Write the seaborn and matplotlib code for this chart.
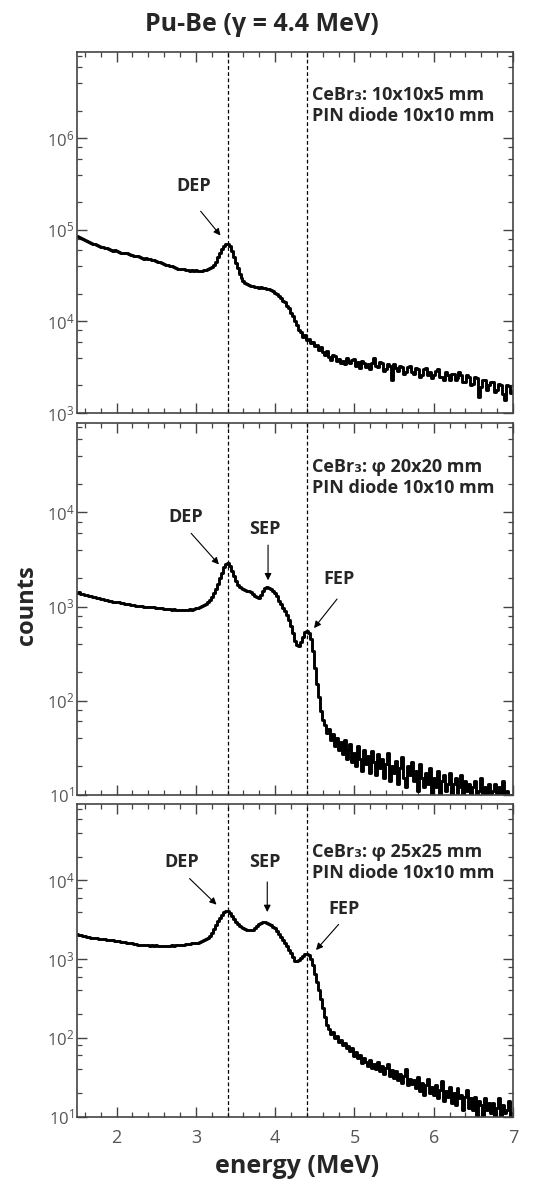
import numpy as np
import pandas as pd
import matplotlib
matplotlib.use("Agg")
import matplotlib.pyplot as plt
from matplotlib.ticker import MultipleLocator, LogLocator, NullFormatter
import seaborn as sns

# bin centres of the spectra (MeV), 25 keV bins
energy = np.round(np.arange(1.5, 7.0 + 1e-9, 0.025), 3)

# CeBr3 10x10x5 mm  (rows of 0.25 MeV)
counts_small = [
    86000, 83500, 82500, 79500, 78500, 76500, 73000, 72500, 70000, 69800,
    68000, 66900, 65200, 64600, 62800, 62900, 61200, 60700, 59600, 59900,
    58300, 58100, 56600, 56400, 55300, 55600, 54100, 53900, 52700, 52400,
    51300, 51400, 50200, 49800, 48700, 49200, 47800, 47600, 47200, 47000,
    46100, 45200, 44700, 43000, 42700, 41500, 41200, 40200, 40100, 38900,
    38600, 37800, 37700, 37300, 37100, 36400, 36700, 36000, 36200, 35400,
    36100, 36000, 35600, 35500, 36200, 36600, 37700, 38300, 39700, 41500,
    45000, 50000, 56000, 62000, 67000, 70000, 71000, 66000, 59000, 51000,
    44000, 38000, 33000, 29500, 27500, 26500, 25500, 25200, 24400, 24500,
    23900, 23800, 23300, 23900, 23400, 23500, 22800, 22800, 21800, 21500,
    20400, 20000, 18800, 18200, 16800, 16200, 14800, 14000, 12300, 11400,
    10000, 9200, 8000, 7600, 6800, 7100, 6200, 6500, 5800, 6000,
    5400, 5600, 4900, 5200, 4600, 4300, 4700, 4100, 3800, 4300,
    4200, 3700, 3900, 3500, 3700, 3400, 4000, 3600, 3500, 3800,
    3900, 3300, 3600, 3100, 3700, 3500, 3200, 3400, 3000, 3500,
    4000, 3300, 3200, 3600, 3500, 2900, 3000, 3400, 3300, 2300,
    3400, 3100, 2900, 3300, 3200, 2700, 2800, 3200, 3300, 2800,
    2700, 3100, 3000, 2500, 2600, 3000, 3100, 2600, 2800, 2400,
    2600, 2900, 3000, 2500, 2500, 2300, 2800, 2600, 2300, 2700,
    2700, 2300, 2400, 2800, 2600, 2200, 2200, 2600, 2500, 2000,
    2100, 2500, 2400, 1500, 1900, 2300, 2300, 1800, 2000, 2200,
    2200, 1700, 1800, 2100, 2000, 1600, 1400, 2000, 1950, 1650,
    1750,
]

# CeBr3 phi 20x20 mm
counts_mid = [
    1400, 1415, 1365, 1355, 1325, 1315, 1285, 1290, 1265, 1260,
    1235, 1225, 1195, 1195, 1165, 1170, 1145, 1145, 1125, 1125,
    1105, 1105, 1085, 1085, 1065, 1075, 1055, 1050, 1035, 1035,
    1015, 1020, 1005, 1005, 995, 995, 985, 990, 980, 980,
    970, 975, 960, 960, 945, 950, 935, 945, 930, 935,
    920, 925, 915, 920, 915, 930, 920, 935, 930, 950,
    955, 970, 990, 1005, 1030, 1060, 1110, 1170, 1250, 1380,
    1550, 1750, 2000, 2300, 2600, 2800, 2880, 2700, 2400, 2100,
    1850, 1700, 1600, 1560, 1520, 1500, 1480, 1460, 1420, 1360,
    1300, 1250, 1240, 1320, 1450, 1560, 1600, 1580, 1520, 1460,
    1380, 1280, 1150, 1060, 960, 890, 820, 720, 620, 520,
    430, 390, 380, 420, 480, 530, 545, 520, 450, 340,
    220, 150, 110, 78, 62, 55, 45, 50, 38, 44,
    33, 40, 30, 36, 27, 38, 24, 30, 35, 22,
    28, 20, 33, 24, 18, 30, 21, 26, 17, 29,
    22, 16, 27, 19, 24, 15, 21, 28, 14, 20,
    17, 23, 13, 19, 25, 15, 12, 20, 16, 22,
    14, 18, 11, 21, 15, 12, 17, 13, 19, 10,
    15, 12, 18, 9, 14, 16, 11, 13, 17, 9,
    13, 15, 10, 12, 16, 9, 14, 11, 13, 8,
    12, 14, 10, 11, 15, 9, 12, 10, 13, 8,
    11, 13, 9, 12, 10, 14, 8, 11, 10, 9,
    10,
]

# CeBr3 phi 25x25 mm
counts_large = [
    2080, 2040, 2005, 1975, 1955, 1915, 1905, 1875, 1865, 1845,
    1835, 1805, 1805, 1785, 1775, 1755, 1755, 1730, 1725, 1700,
    1695, 1675, 1665, 1640, 1635, 1610, 1605, 1585, 1575, 1550,
    1545, 1525, 1525, 1505, 1505, 1490, 1495, 1480, 1485, 1475,
    1485, 1470, 1480, 1465, 1480, 1470, 1480, 1472, 1485, 1480,
    1495, 1490, 1505, 1505, 1525, 1530, 1555, 1555, 1575, 1580,
    1600, 1620, 1650, 1680, 1720, 1780, 1850, 1980, 2150, 2400,
    2700, 3000, 3300, 3650, 3950, 4080, 4050, 3800, 3500, 3200,
    2950, 2780, 2650, 2550, 2450, 2400, 2350, 2330, 2320, 2360,
    2450, 2600, 2750, 2850, 2920, 2930, 2900, 2820, 2700, 2580,
    2450, 2280, 2100, 1920, 1750, 1600, 1450, 1320, 1200, 1060,
    950, 940, 980, 1040, 1100, 1150, 1170, 1130, 1000, 830,
    650, 510, 400, 310, 240, 185, 145, 128, 112, 118,
    100, 106, 88, 95, 80, 86, 74, 78, 68, 75,
    58, 66, 55, 61, 48, 56, 50, 44, 53, 42,
    47, 40, 50, 38, 44, 35, 42, 47, 33, 39,
    31, 38, 29, 35, 27, 33, 40, 25, 30, 26,
    29, 23, 32, 21, 27, 19, 25, 30, 20, 24,
    19, 25, 17, 22, 28, 16, 21, 18, 24, 15,
    20, 14, 23, 17, 19, 12, 18, 22, 13, 17,
    12, 18, 10, 16, 14, 9, 17, 12, 15, 11,
    15, 10, 13, 17, 9, 14, 11, 12, 16, 10,
    11,
]

detector_labels = [
    "CeBr\u2083: 10x10x5 mm\nPIN diode 10x10 mm",
    "CeBr\u2083: \u03c6 20x20 mm\nPIN diode 10x10 mm",
    "CeBr\u2083: \u03c6 25x25 mm\nPIN diode 10x10 mm",
]
peak_lines = [3.4, 4.4]

sns.set_theme(style="ticks")
plt.rcParams["font.family"] = ["Open Sans", "DejaVu Sans"]

fig = plt.figure(figsize=(5.37, 11.81), dpi=100)
# [left, bottom, width, height] of each panel
boxes = [
    [0.1434, 0.6503, 0.8119, 0.3057],
    [0.1434, 0.3271, 0.8119, 0.3150],
    [0.1434, 0.0545, 0.8119, 0.2648],
]
ylims = [(1e3, 8.8e6), (10, 9e4), (10, 9.3e4)]
spectra = [counts_small, counts_mid, counts_large]

axes = []
for i, (box, ylim, cts) in enumerate(zip(boxes, ylims, spectra)):
    ax = fig.add_axes(box)
    df = pd.DataFrame({"energy": energy, "counts": cts})
    sns.lineplot(data=df, x="energy", y="counts", ax=ax, color="black",
                 linewidth=2.1, drawstyle="steps-mid", estimator=None)
    ax.set_yscale("log")
    ax.set_xlim(1.5, 7.0)
    ax.set_ylim(*ylim)
    for xv in peak_lines:
        ax.axvline(xv, color="black", lw=0.9, ls=(0, (3, 2)), zorder=1)
    ax.xaxis.set_major_locator(MultipleLocator(1))
    ax.xaxis.set_minor_locator(MultipleLocator(0.2))
    ax.yaxis.set_major_locator(LogLocator(base=10))
    ax.yaxis.set_minor_locator(LogLocator(base=10, subs=[2, 4, 6, 8]))
    ax.yaxis.set_minor_formatter(NullFormatter())
    ax.tick_params(which="both", direction="in", top=True, right=True,
                   colors="#444444", labelcolor="#555555")
    ax.tick_params(which="major", length=7, width=1.0)
    ax.tick_params(which="minor", length=3.5, width=0.9)
    ax.tick_params(axis="y", labelsize=12, pad=2)
    ax.tick_params(axis="x", labelsize=13, pad=9)
    for sp in ax.spines.values():
        sp.set_color("#444444")
        sp.set_linewidth(1.2)
    ax.set_xlabel("")
    ax.set_ylabel("")
    if i < 2:
        ax.tick_params(axis="x", labelbottom=False)
    ax.text(4.46, 1.0 - (0.125 if i == 2 else 0.095), detector_labels[i],
            transform=ax.get_xaxis_transform(), ha="left", va="top",
            fontsize=13, fontweight="bold", linespacing=1.2)
    axes.append(ax)

arrow = dict(arrowstyle="-|>", color="black", lw=0.8, mutation_scale=10,
             shrinkA=0, shrinkB=0)
lab = dict(ha="center", va="center", fontsize=13, fontweight="bold")

# top panel
axes[0].annotate("", xy=(3.31, 8.7e4), xytext=(3.06, 1.6e5), arrowprops=arrow)
axes[0].text(2.97, 3.0e5, "DEP", **lab)

# middle panel
axes[1].annotate("", xy=(3.29, 2.8e3), xytext=(2.94, 6.0e3), arrowprops=arrow)
axes[1].text(2.87, 8.9e3, "DEP", **lab)
axes[1].annotate("", xy=(3.91, 1.9e3), xytext=(3.91, 4.5e3), arrowprops=arrow)
axes[1].text(3.875, 6.6e3, "SEP", **lab)
axes[1].annotate("", xy=(4.49, 590), xytext=(4.78, 1.2e3), arrowprops=arrow)
axes[1].text(4.80, 1.95e3, "FEP", **lab)

# bottom panel
axes[2].annotate("", xy=(3.26, 4.9e3), xytext=(2.92, 1.05e4), arrowprops=arrow)
axes[2].text(2.82, 1.68e4, "DEP", **lab)
axes[2].annotate("", xy=(3.90, 3.95e3), xytext=(3.90, 9.5e3), arrowprops=arrow)
axes[2].text(3.87, 1.68e4, "SEP", **lab)
axes[2].annotate("", xy=(4.515, 1.3e3), xytext=(4.80, 2.75e3), arrowprops=arrow)
axes[2].text(4.87, 4.3e3, "FEP", **lab)

fig.text(0.488, 0.979, "Pu-Be (\u03b3 = 4.4 MeV)", ha="center", va="center",
         fontsize=18, fontweight="bold")
fig.text(0.05, 0.488, "counts", rotation=90, ha="center", va="center",
         fontsize=17, fontweight="bold")
fig.text(0.553, 0.012, "energy (MeV)", ha="center", va="center",
         fontsize=18, fontweight="bold")

fig.savefig("out.png", dpi=100, facecolor="white")
